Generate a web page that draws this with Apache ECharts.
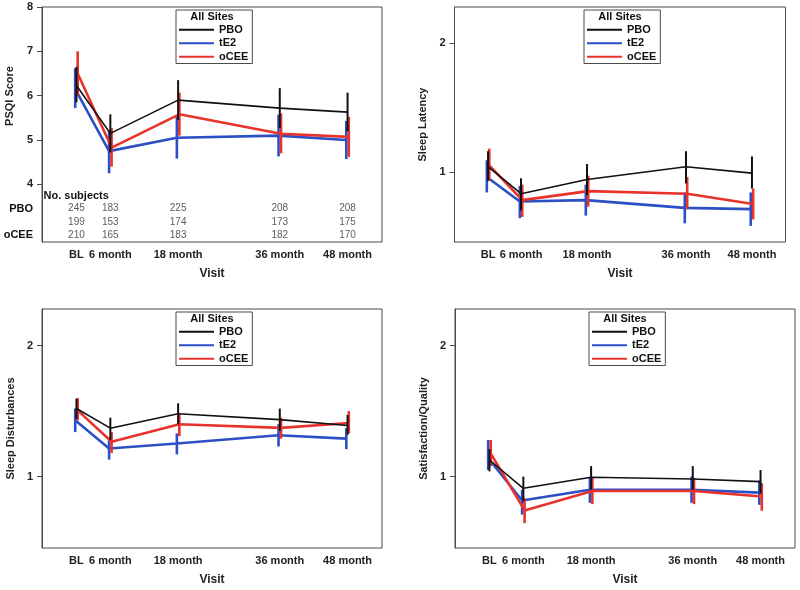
<!DOCTYPE html>
<html>
<head>
<meta charset="utf-8">
<title>Sleep scores by visit</title>
<script src="https://cdn.jsdelivr.net/npm/echarts@6/dist/echarts.min.js"></script>
<style>
* { margin: 0; padding: 0; }
body { background: #fff; }
#main { width: 800px; height: 590px; }
</style>
</head>
<body>
<div id="main"></div>
<script>
// visits (x axis is months from baseline)
var visits = ['BL', '6 month', '18 month', '36 month', '48 month'];
var visitMonths = [0, 6, 18, 36, 48];
var groups = ['PBO', 'tE2', 'oCEE'];

// No. subjects per visit
var subjPBO = [245, 183, 225, 208, 208];
var subjTE2 = [199, 153, 174, 173, 175];
var subjOCEE = [210, 165, 183, 182, 170];

// PSQI score, rows: PBO, tE2, oCEE
var psqiMean = [[6.23, 5.15, 5.90, 5.72, 5.63], [6.15, 4.75, 5.05, 5.10, 5.00], [6.50, 4.83, 5.58, 5.14, 5.07]];
var psqiLow  = [[5.85, 4.72, 5.45, 5.27, 5.20], [5.72, 4.25, 4.58, 4.63, 4.57], [6.00, 4.40, 5.10, 4.70, 4.62]];
var psqiHigh = [[6.65, 5.58, 6.35, 6.17, 6.07], [6.62, 5.22, 5.52, 5.57, 5.43], [7.00, 5.27, 6.07, 5.60, 5.52]];

// Sleep latency
var latMean = [[1.04, 0.83, 0.94, 1.04, 0.99], [0.96, 0.77, 0.78, 0.72, 0.71], [1.05, 0.78, 0.85, 0.83, 0.75]];
var latLow  = [[0.93, 0.70, 0.82, 0.91, 0.87], [0.84, 0.64, 0.66, 0.60, 0.58], [0.93, 0.65, 0.73, 0.71, 0.63]];
var latHigh = [[1.16, 0.95, 1.06, 1.16, 1.12], [1.09, 0.89, 0.90, 0.84, 0.84], [1.18, 0.90, 0.97, 0.96, 0.87]];

// Sleep disturbances
var distMean = [[1.52, 1.37, 1.48, 1.435, 1.39], [1.43, 1.215, 1.253, 1.316, 1.29], [1.506, 1.266, 1.40, 1.372, 1.41]];
var distLow  = [[1.44, 1.28, 1.40, 1.35, 1.32], [1.34, 1.13, 1.17, 1.23, 1.21], [1.43, 1.18, 1.31, 1.29, 1.33]];
var distHigh = [[1.595, 1.45, 1.56, 1.52, 1.47], [1.52, 1.30, 1.33, 1.40, 1.37], [1.60, 1.34, 1.48, 1.45, 1.50]];

// Satisfaction/Quality
var satMean = [[1.127, 0.911, 0.995, 0.982, 0.962], [1.14, 0.818, 0.90, 0.90, 0.878], [1.177, 0.742, 0.89, 0.89, 0.848]];
var satLow  = [[1.04, 0.81, 0.90, 0.90, 0.87], [1.05, 0.71, 0.80, 0.80, 0.785], [1.08, 0.645, 0.79, 0.79, 0.74]];
var satHigh = [[1.21, 1.00, 1.08, 1.08, 1.05], [1.28, 0.90, 0.99, 1.00, 0.97], [1.28, 0.835, 0.99, 0.99, 0.95]];

var psqiTicks = [4, 5, 6, 7, 8];
var compTicks = [1, 2];

var FONT = '"Liberation Sans", Arial, sans-serif';
var BOX = '#4a4a4a';
var colors = ['#111111', '#2d4fc6', '#e8322c'];
var lineWidths = [1.6, 2.6, 2.6];
var barWidths = [2, 2.6, 2.6];
var dodge = [0, -0.22, 0.22];
var zs = [4, 2, 3];

var panels = [
  { name: 'PSQI Score', mean: psqiMean, low: psqiLow, high: psqiHigh, ticks: psqiTicks,
    min: 2.7, max: 8, left: 42, top: 7, width: 340, height: 235 },
  { name: 'Sleep Latency', mean: latMean, low: latLow, high: latHigh, ticks: compTicks,
    min: 0.455, max: 2.28, left: 454.5, top: 7, width: 331, height: 235 },
  { name: 'Sleep Disturbances', mean: distMean, low: distLow, high: distHigh, ticks: compTicks,
    min: 0.455, max: 2.28, left: 42, top: 309, width: 340, height: 239 },
  { name: 'Satisfaction/Quality', mean: satMean, low: satLow, high: satHigh, ticks: compTicks,
    min: 0.455, max: 2.28, left: 455, top: 309, width: 340, height: 239 }
];

function errorBar(color, width) {
  return function (params, api) {
    var p1 = api.coord([api.value(0), api.value(1)]);
    var p2 = api.coord([api.value(0), api.value(2)]);
    return {
      type: 'line',
      shape: { x1: p1[0], y1: p1[1], x2: p2[0], y2: p2[1] },
      style: { stroke: color, lineWidth: width }
    };
  };
}

var grid = [], xAxis = [], yAxis = [], series = [], legend = [], graphic = [];

panels.forEach(function (p, k) {
  grid.push({
    left: p.left, top: p.top, width: p.width, height: p.height,
    show: true, borderColor: BOX, borderWidth: 1
  });
  xAxis.push({
    gridIndex: k, type: 'value', min: -6.1, max: 54.1,
    axisLine: { show: false },
    axisTick: { show: false },
    splitLine: { show: false },
    axisLabel: {
      customValues: visitMonths,
      formatter: function (v) { return visits[visitMonths.indexOf(v)]; },
      fontFamily: FONT, fontWeight: 'bold', fontSize: 11, color: '#222', margin: 7
    },
    name: 'Visit', nameLocation: 'middle', nameGap: 26,
    nameTextStyle: { fontFamily: FONT, fontWeight: 'bold', fontSize: 12, color: '#222' }
  });
  yAxis.push({
    gridIndex: k, type: 'value', min: p.min, max: p.max,
    axisLine: { show: true, onZero: false, lineStyle: { color: BOX, width: 1 } },
    axisTick: { show: true, customValues: p.ticks, length: 5, lineStyle: { color: BOX } },
    splitLine: { show: false },
    axisLabel: {
      customValues: p.ticks,
      fontFamily: FONT, fontWeight: 'bold', fontSize: 11, color: '#222', margin: 9
    },
    name: k === 0 ? '' : p.name, nameLocation: 'middle', nameGap: 26, nameRotate: 90,
    nameTextStyle: { fontFamily: FONT, fontWeight: 'bold', fontSize: 11, color: '#222' }
  });

  groups.forEach(function (g, gi) {
    var pts = visitMonths.map(function (m, i) { return [m + dodge[gi], p.mean[gi][i]]; });
    var bars = visitMonths.map(function (m, i) { return [m + dodge[gi], p.low[gi][i], p.high[gi][i]]; });
    series.push({
      type: 'line', name: g, xAxisIndex: k, yAxisIndex: k,
      data: pts, symbol: 'none', z: zs[gi],
      lineStyle: { color: colors[gi], width: lineWidths[gi] },
      itemStyle: { color: colors[gi] }
    });
    series.push({
      type: 'custom', name: g, xAxisIndex: k, yAxisIndex: k,
      data: bars, z: zs[gi],
      encode: { x: 0, y: [1, 2] },
      itemStyle: { color: colors[gi] },
      renderItem: errorBar(colors[gi], barWidths[gi])
    });
  });

  // legend box "All Sites" at top centre of each panel
  var cx = p.left + p.width / 2;
  legend.push({
    data: groups, orient: 'vertical', selectedMode: false,
    left: cx - 36, top: p.top + 3,
    padding: [13, 4, 0, 2], borderColor: BOX, borderWidth: 1,
    itemWidth: 35, itemHeight: 10, itemGap: 0,
    itemStyle: { opacity: 0 },
    textStyle: { fontFamily: FONT, fontWeight: 'bold', fontSize: 11, color: '#111', lineHeight: 13.5 }
  });
  graphic.push({
    type: 'text', x: cx, y: p.top + 10,
    style: { text: 'All Sites', fontFamily: FONT, fontWeight: 'bold', fontSize: 11,
             fill: '#111', align: 'center', verticalAlign: 'middle' }
  });
});

// PSQI axis title sits beside the 4..8 part of the axis
graphic.push({
  type: 'text', x: 9.5, y: 96, rotation: Math.PI / 2,
  style: { text: panels[0].name, fontFamily: FONT, fontWeight: 'bold', fontSize: 11,
           fill: '#222', align: 'center', verticalAlign: 'middle' }
});
graphic.push({
  type: 'text', x: 43.5, y: 196,
  style: { text: 'No. subjects', fontFamily: FONT, fontWeight: 'bold', fontSize: 11,
           fill: '#111', align: 'left', verticalAlign: 'middle' }
});

// subject-count table inside the PSQI panel
var subj = [subjPBO, subjTE2, subjOCEE];
grid.push({ left: 42, top: 202, width: 340, height: 40 });
xAxis.push({ gridIndex: 4, type: 'value', min: -6.1, max: 54.1, show: false });
yAxis.push({
  gridIndex: 4, type: 'category', data: groups, inverse: true,
  axisLine: { show: false }, axisTick: { show: false }, splitLine: { show: false },
  axisLabel: { fontFamily: FONT, fontWeight: 'bold', fontSize: 11, color: '#111', margin: 9 }
});
var tableData = [];
groups.forEach(function (g, gi) {
  visitMonths.forEach(function (m, i) { tableData.push([m, g, subj[gi][i]]); });
});
series.push({
  type: 'scatter', xAxisIndex: 4, yAxisIndex: 4, silent: true,
  symbolSize: 0, data: tableData,
  label: {
    show: true, position: 'inside', fontFamily: FONT, fontSize: 10, color: '#333',
    formatter: function (p) { return p.value[2]; }
  }
});

var chart = echarts.init(document.getElementById('main'));
chart.setOption({
  backgroundColor: '#fff',
  animation: false,
  grid: grid,
  xAxis: xAxis,
  yAxis: yAxis,
  legend: legend,
  graphic: graphic,
  series: series
});
</script>
</body>
</html>
